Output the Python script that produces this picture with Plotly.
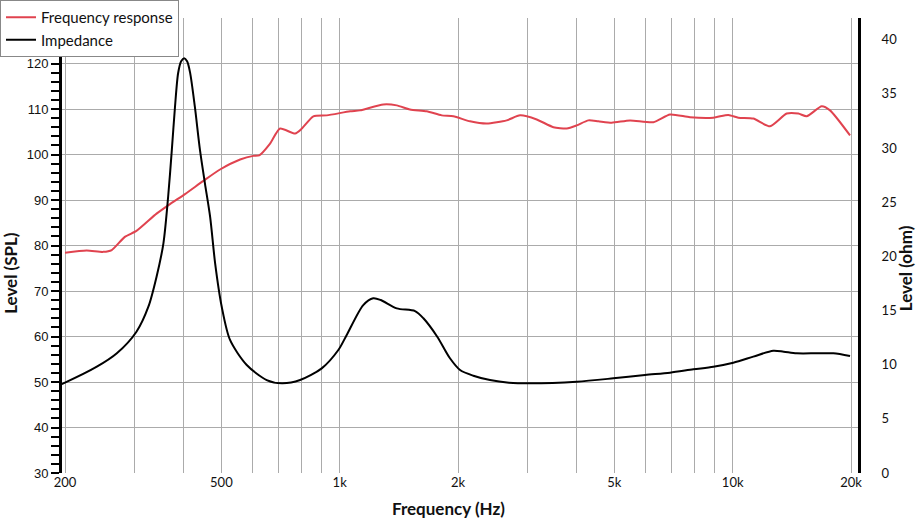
import plotly.graph_objects as go

# frequency response (Hz, dB SPL)
fr_freq = [200, 227, 250, 263, 284, 304, 342, 370, 404, 450, 496, 558, 603, 624,
           665, 705, 770, 801, 857, 927, 1063, 1126, 1291, 1397, 1509, 1665, 1818,
           1946, 2146, 2366, 2660, 2877, 3172, 3497, 3781, 4010, 4293, 4550, 4922,
           5480, 6282, 6926, 7786, 8929, 9746, 10334, 11282, 12446, 13723, 14690,
           15428, 16845, 17686, 19885]
fr_level = [78.4, 78.9, 78.6, 79.0, 81.9, 83.2, 87.0, 89.1, 91.3, 94.2, 96.7, 98.9,
            99.7, 99.8, 102.4, 105.7, 104.6, 105.7, 108.4, 108.6, 109.5, 109.7, 111.0,
            110.8, 109.9, 109.5, 108.6, 108.4, 107.3, 106.8, 107.5, 108.6, 107.7, 106.0,
            105.7, 106.4, 107.5, 107.3, 107.0, 107.5, 107.1, 108.8, 108.2, 108.1, 108.7,
            108.1, 107.9, 106.2, 109.0, 109.0, 108.4, 110.6, 109.7, 104.2]

# impedance (Hz, ohm)
imp_freq = [190, 200, 241, 271, 304, 326, 342, 356, 366, 374, 381, 388, 395, 402,
            409, 416, 428, 441, 454, 468, 482, 501, 526, 580, 652, 713, 793, 900,
            992, 1042, 1148, 1217, 1272, 1397, 1555, 1633, 1771, 1908, 2024, 2188,
            2412, 2696, 3050, 4010, 4970, 5982, 6926, 7940, 8929, 10034, 11282,
            12682, 13480, 14548, 16360, 18032, 19885]
imp_ohm = [8.0, 8.34, 9.81, 11.05, 13.04, 15.35, 18.12, 21.2, 25.5, 29.82, 33.81,
           36.9, 38.0, 38.28, 38.0, 37.0, 33.81, 29.82, 26.74, 23.66, 19.36, 15.35,
           12.28, 9.97, 8.58, 8.28, 8.58, 9.66, 11.35, 12.74, 15.5, 16.13, 15.97,
           15.2, 14.95, 14.28, 12.58, 10.59, 9.51, 8.98, 8.58, 8.34, 8.28, 8.43,
           8.74, 9.05, 9.26, 9.57, 9.81, 10.18, 10.74, 11.29, 11.2, 11.05, 11.05,
           11.05, 10.8]

x_ticks = [200, 500, 1000, 2000, 5000, 10000, 20000]
x_labels = ['200', '500', '1k', '2k', '5k', '10k', '20k']
x_grid = [m * d for d in (100, 1000, 10000) for m in range(1, 10)] + [20000]
x_grid = [v for v in x_grid if 200 <= v <= 20000]

fig = go.Figure()
fig.add_trace(go.Scatter(
    x=fr_freq, y=fr_level, name='Frequency response', mode='lines',
    line=dict(color='#e0434f', width=2, shape='spline', smoothing=0.6)))
fig.add_trace(go.Scatter(
    x=imp_freq, y=imp_ohm, name='Impedance', mode='lines', yaxis='y2',
    line=dict(color='black', width=2, shape='spline', smoothing=0.8)))

# axis titles placed by hand (paper coords of a 796x455 plot area)
title_font = dict(family='Lato, sans-serif', size=17, color='#111111')
fig.add_annotation(text='<b>Frequency (Hz)</b>', xref='paper', yref='paper',
                   x=0.486, y=-0.077, xanchor='center', yanchor='middle',
                   showarrow=False, font=title_font)
fig.add_annotation(text='<b>Level (SPL)</b>', xref='paper', yref='paper',
                   x=-0.064, y=0.440, xanchor='center', yanchor='middle',
                   showarrow=False, textangle=-90, font=title_font)
fig.add_annotation(text='<b>Level (ohm)</b>', xref='paper', yref='paper',
                   x=1.059, y=0.450, xanchor='center', yanchor='middle',
                   showarrow=False, textangle=-90, font=title_font)

fig.update_layout(
    width=917, height=522,
    margin=dict(l=62, r=59, t=18, b=49, autoexpand=False),
    paper_bgcolor='white', plot_bgcolor='white',
    font=dict(family='Lato, sans-serif', color='#111111', size=13),
    showlegend=True,
    legend=dict(
        xref='container', yref='container',
        x=0, y=1, xanchor='left', yanchor='top',
        bgcolor='white', bordercolor='#888888', borderwidth=1,
        font=dict(size=15, color='#111111'),
        tracegroupgap=0, itemwidth=30),
    xaxis=dict(
        type='log', range=[2.2934, 4.3188], automargin=False,
        tickvals=x_ticks, ticktext=x_labels,
        showgrid=True, gridcolor='#ababab', gridwidth=1,
        minor=dict(tickvals=x_grid, showgrid=True, gridcolor='#ababab', gridwidth=1),
        showline=False, zeroline=False, ticks='',
        tickfont=dict(size=13)),
    yaxis=dict(
        range=[30, 130], automargin=False,
        tickvals=[30, 40, 50, 60, 70, 80, 90, 100, 110, 120],
        showgrid=True, gridcolor='#ababab', gridwidth=1,
        showline=True, linecolor='black', linewidth=3,
        ticks='outside', ticklen=8, tickwidth=2, tickcolor='black',
        minor=dict(dtick=2, tick0=30, ticks='outside', ticklen=8, tickwidth=2,
                   tickcolor='black', showgrid=False),
        zeroline=False,
        tickfont=dict(family='Liberation Sans, Arial, sans-serif', size=13)),
    yaxis2=dict(
        overlaying='y', side='right', range=[0, 42], dtick=5, tick0=0,
        automargin=False,
        showgrid=False, zeroline=False,
        showline=True, linecolor='black', linewidth=3,
        ticks='', ticklabelstandoff=18,
        tickfont=dict(size=13)),
)

# drop the browser's default body margin so the figure sits at the top-left corner
fig.write_html("out.html", config={'displayModeBar': False},
               post_script="document.body.style.margin = '0';")
